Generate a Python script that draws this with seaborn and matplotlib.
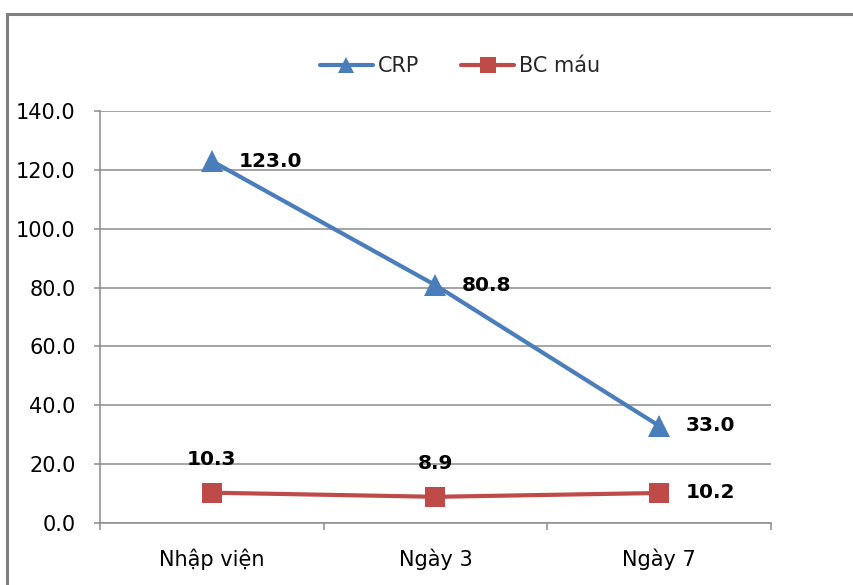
import matplotlib
matplotlib.use("Agg")
import matplotlib.pyplot as plt
from matplotlib.patches import Rectangle
from matplotlib.ticker import FormatStrFormatter, FixedLocator
import seaborn as sns
import pandas as pd

categories = ["Nhập viện", "Ngày 3", "Ngày 7"]
crp = [123.0, 80.8, 33.0]
bc_mau = [10.3, 8.9, 10.2]
series_names = ["CRP", "BC máu"]
y_ticks = [0, 20, 40, 60, 80, 100, 120, 140]

sns.set_theme(style="white")
plt.rcParams["font.family"] = ["DejaVu Sans"]

W, H = 854, 585
fig = plt.figure(figsize=(W / 100, H / 100), dpi=100)
ax = fig.add_axes([100 / W, (H - 523) / H, 671 / W, 412 / H])

blue = "#4A7EBB"
red = "#BE4B48"

df = pd.DataFrame({
    "x": list(range(len(categories))) * 2,
    "value": crp + bc_mau,
    "series": [series_names[0]] * 3 + [series_names[1]] * 3,
})

sns.lineplot(data=df[df.series == "CRP"], x="x", y="value", ax=ax, color=blue,
             lw=3, marker="^", markersize=16, markeredgewidth=0, label="CRP")
sns.lineplot(data=df[df.series == "BC máu"], x="x", y="value", ax=ax, color=red,
             lw=3, marker="s", markersize=15, markeredgewidth=0, label="BC máu")

# data labels
for i, v in enumerate(crp):
    ax.annotate(f"{v:.1f}", (i, v), xytext=(19, 0), textcoords="offset points",
                ha="left", va="center", fontsize=14.5, fontweight="bold", color="black")
for i, v in enumerate(bc_mau):
    if i < 2:
        ax.annotate(f"{v:.1f}", (i, v), xytext=(0, 24), textcoords="offset points",
                    ha="center", va="center", fontsize=14.5, fontweight="bold", color="black")
    else:
        ax.annotate(f"{v:.1f}", (i, v), xytext=(19, 0), textcoords="offset points",
                    ha="left", va="center", fontsize=14.5, fontweight="bold", color="black")

ax.set_xlim(-0.5, len(categories) - 0.5)
ax.set_ylim(0, 140)
ax.set_yticks(y_ticks)
ax.yaxis.set_major_formatter(FormatStrFormatter("%.1f"))
ax.set_xticks(range(len(categories)))
ax.set_xticklabels(categories)
ax.xaxis.set_minor_locator(FixedLocator([-0.5, 0.5, 1.5, 2.5]))
ax.set_xlabel("")
ax.set_ylabel("")

grid_c = "#8C8C8C"
ax.grid(axis="y", color=grid_c, lw=1.1)
ax.grid(axis="x", visible=False)
ax.set_axisbelow(True)
for s in ["top", "right"]:
    ax.spines[s].set_visible(False)
ax.spines["left"].set_color(grid_c)
ax.spines["bottom"].set_color(grid_c)
ax.spines["left"].set_linewidth(1.1)
ax.spines["bottom"].set_linewidth(1.1)

ax.tick_params(axis="y", which="major", left=True, length=4.5, width=1.1, color=grid_c,
               direction="out", pad=13, labelsize=15, labelcolor="black")
ax.tick_params(axis="x", which="major", bottom=False, length=0, pad=18,
               labelsize=15, labelcolor="black")
ax.tick_params(axis="x", which="minor", bottom=True, length=5, width=1.1,
               color=grid_c, direction="out")

leg = ax.legend(loc="center", bbox_to_anchor=(460 / W, 1 - 66 / H),
                bbox_transform=fig.transFigure, ncol=2, frameon=False,
                fontsize=15, handlelength=2.55, handletextpad=0.25,
                columnspacing=2.0, markerscale=0.75)

# outer chart border (top and left edges visible)
fig.patches.append(Rectangle((7 / W, -0.2), 1.2, (H - 14) / H + 0.2,
                             transform=fig.transFigure, fill=False,
                             edgecolor="#7F7F7F", lw=2.2, zorder=0))

fig.savefig("out.png", dpi=100)
